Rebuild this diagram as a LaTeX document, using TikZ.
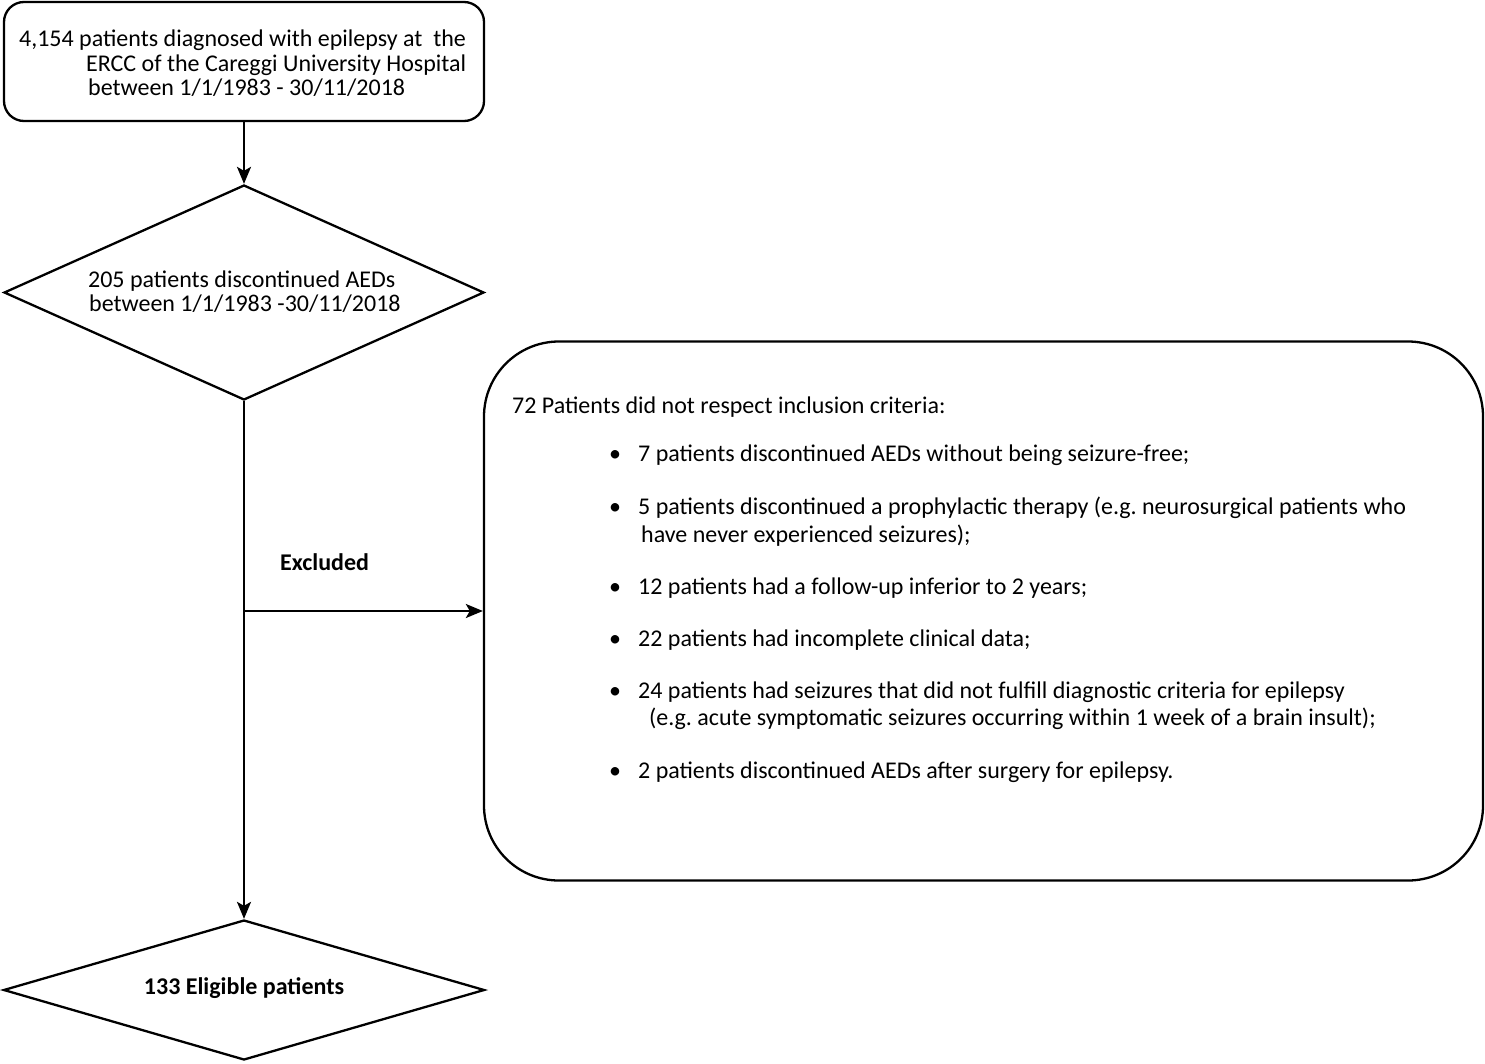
\documentclass[tikz,border=0pt]{standalone}
\usepackage{fontspec}
\setmainfont{Carlito}
\usetikzlibrary{arrows.meta,shapes.geometric}
\frenchspacing
\begin{document}
\begin{tikzpicture}[x=1pt,y=-1pt,line width=2.3pt,
  txt/.style={anchor=base west,inner sep=0pt,font=\fontsize{24}{28}\selectfont},
  shp/.style={draw,inner sep=0pt,line width=2.3pt},
  arr/.style={-{Stealth[length=17pt,width=14pt,inset=4pt]}}]
\useasboundingbox (0,0) rectangle (1485,1063);
% shapes
\node[shp,rounded corners=20pt,minimum width=480pt,minimum height=119pt] (top) at (244,61.5) {};
\node[shp,diamond,minimum width=480pt,minimum height=215pt] (d1) at (244,292.5) {};
\node[shp,diamond,minimum width=481pt,minimum height=140pt] (d2) at (244,990) {};
\node[shp,rounded corners=75pt,minimum width=999pt,minimum height=539pt] (big) at (983.5,611) {};
\coordinate (br) at (244,611);
% connectors
\draw[arr] (top.south) -- (d1.north);
\draw[arr] (d1.south) -- (d2.north);
\draw[arr] (br) -- (big.west);
% texts
\node[txt] (t1) at (18,46) {4,154 patients diagnosed with epilepsy at\ \ the};
\node[txt] (t2) at (85,71) {ERCC of the Careggi University Hospital};
\node[txt] (t3) at (87,95) {between 1/1/1983 - 30/11/2018};
\node[txt] (d1a) at (87,287) {205 patients discontinued AEDs};
\node[txt] (d1b) at (88,311) {between 1/1/1983 -30/11/2018};
\node[txt,font=\fontsize{24}{28}\selectfont\bfseries] (ex) at (279,570) {Excluded};
\node[anchor=center,inner sep=0pt,font=\fontsize{24}{28}\selectfont\bfseries] (el) at (244,988) {133 Eligible patients};
\node[txt] (h) at (511,413) {72 Patients did not respect inclusion criteria:};
\foreach \y/\n in {461/1,514/2,594/3,646/4,698/5,778/6}
  \node[txt] (b\n) at (608,\y) {\textbullet};
\node[txt] (i1) at (637,461) {7 patients discontinued AEDs without being seizure-free;};
\node[txt] (i2) at (637,514) {5 patients discontinued a prophylactic therapy (e.g. neurosurgical patients who};
\node[txt] (i2b) at (640,542) {have never experienced seizures);};
\node[txt] (i3) at (637,594) {12 patients had a follow-up inferior to 2 years;};
\node[txt] (i4) at (637,646) {22 patients had incomplete clinical data;};
\node[txt] (i5) at (637,698) {24 patients had seizures that did not fulfill diagnostic criteria for epilepsy};
\node[txt] (i5b) at (648,725) {(e.g. acute symptomatic seizures occurring within 1 week of a brain insult);};
\node[txt] (i6) at (637,778) {2 patients discontinued AEDs after surgery for epilepsy.};
\end{tikzpicture}
\end{document}
